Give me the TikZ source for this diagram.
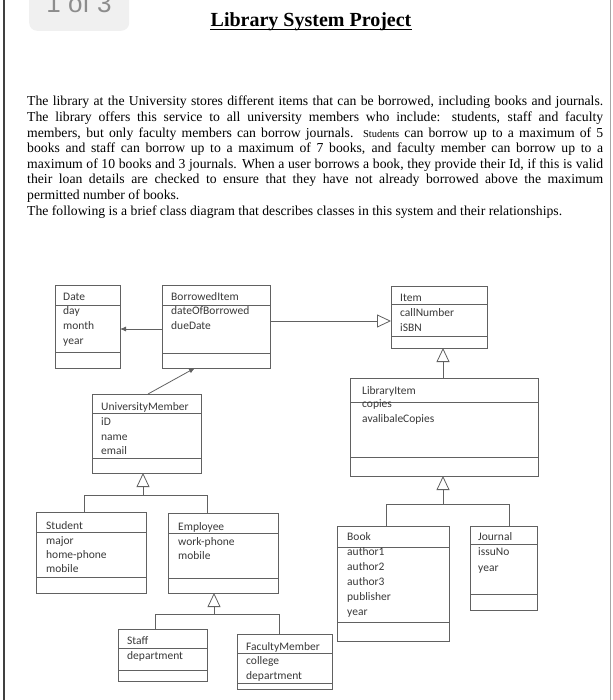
\documentclass[tikz,border=0pt]{standalone}
\usepackage{fontspec}
\setmainfont{Liberation Serif}
\newfontfamily\umlfont{Carlito}
\newfontfamily\pgfont{Liberation Sans}
\usetikzlibrary{arrows.meta}
\definecolor{linegray}{gray}{0.38}
\definecolor{txtgray}{gray}{0.22}
\newcommand\umlbox[5]{%
  \pgfmathsetmacro\bw{#4-#2}\pgfmathsetmacro\bh{#5-#3}%
  \node[box, minimum width=\bw pt, minimum height=\bh pt, anchor=north west] (#1) at (#2,#3) {};}
\newcommand\umldiv[2]{\draw[conn] (#1.west |- 0,#2) -- (#1.east |- 0,#2);}
\newcommand\umlattrs[5]{\foreach \t [count=\i] in {#5} {\node[lbl] (#1-a\i) at (#2,{#3+#4*(\i-1)}) {\t};}}
\tikzset{
  box/.style={draw=linegray, line width=0.8pt, inner sep=0pt, outer sep=0pt},
  conn/.style={draw=linegray, line width=0.8pt},
  lbl/.style={anchor=base west, inner sep=0pt, font=\umlfont\fontsize{11.5}{13}\selectfont, text=txtgray},
  gen/.style={conn, -{Triangle[open, length=14pt, width=13pt, line width=0.8pt]}},
  assoc/.style={conn, -{Latex[length=6pt, width=5pt]}},
}
\begin{document}
\begin{tikzpicture}[x=1pt, y=-1pt]
\useasboundingbox (0,0) rectangle (612,700);
\begin{scope}
\clip (0,0) rectangle (612,700);
% page frame
\draw[line width=1.6pt, black!75] (4,-5) -- (4,705);
\draw[line width=0.6pt, black!35] (610,-5) -- (610,705);
% page counter overlay
\node[fill=black!6, rounded corners=8pt, minimum width=100pt, minimum height=60pt, anchor=south west, inner sep=0pt] (pgbox) at (29,31) {};
\node[anchor=base, inner sep=0pt, text=black!45, font=\pgfont\fontsize{26}{26}\selectfont] (pgtxt) at (79,13) {1 of 3};
\end{scope}
% title
\node[anchor=base, inner sep=0pt, font=\bfseries\fontsize{20}{24}\selectfont] (title) at (311,27) {Library System Project};
\draw[line width=1pt] ([yshift=-2.2pt]title.base west) -- ([yshift=-2.2pt]title.base east);
% paragraph
\node[anchor=north west, text width=576pt, align=justify, inner sep=0pt,
      font=\fontsize{13.7}{15.6}\selectfont] (para) at (27,96)
{The library at the University stores different items that can be borrowed, including books and journals.\linebreak
The library offers this service to all university members who include: students, staff and faculty\linebreak
members, but only faculty members can borrow journals. {\fontsize{10.5}{12}\selectfont Students} can borrow up to a maximum of 5\linebreak
books and staff can borrow up to a maximum of 7 books, and faculty member can borrow up to a\linebreak
maximum of 10 books and 3 journals. When a user borrows a book, they provide their Id, if this is valid\linebreak
their loan details are checked to ensure that they have not already borrowed above the maximum\linebreak
permitted number of books.\\
The following is a brief class diagram that describes classes in this system and their relationships.};

% ---- classes ----
\umlbox{date}{55}{285}{120}{368}\umldiv{date}{305}\umldiv{date}{352}
\node[lbl] (date-h) at (63,300.5) {Date};
\umlattrs{date}{63}{314.5}{15}{day,month,year}

\umlbox{borrowed}{162}{285}{270}{368}\umldiv{borrowed}{305}\umldiv{borrowed}{353}
\node[lbl] (borrowed-h) at (171,300.5) {BorrowedItem};
\umlattrs{borrowed}{171}{314.5}{15}{dateOfBorrowed,dueDate}

\umlbox{item}{391}{286}{487}{348}\umldiv{item}{304}\umldiv{item}{336}
\node[lbl] (item-h) at (400,301.5) {Item};
\umlattrs{item}{400}{316.5}{15}{callNumber,iSBN}

\umlbox{libitem}{350}{378}{538}{476}\umldiv{libitem}{402}\umldiv{libitem}{457}
\node[lbl] (libitem-h) at (362,394.5) {LibraryItem};
\umlattrs{libitem}{362}{407.5}{15}{copies,avalibaleCopies}

\umlbox{member}{92}{394}{201}{473}\umldiv{member}{413}\umldiv{member}{458}
\node[lbl] (member-h) at (101,410.5) {UniversityMember};
\umlattrs{member}{101}{425.5}{14.5}{iD,name,email}

\umlbox{student}{36}{512}{146}{593}\umldiv{student}{532}\umldiv{student}{577}
\node[lbl] (student-h) at (46,529.5) {Student};
\umlattrs{student}{46}{544.5}{14}{major,home-phone,mobile}

\umlbox{employee}{168}{513}{278}{593}\umldiv{employee}{533}\umldiv{employee}{578}
\node[lbl] (employee-h) at (178,530.5) {Employee};
\umlattrs{employee}{178}{545.5}{14}{work-phone,mobile}

\umlbox{staff}{118}{629}{207}{681}\umldiv{staff}{648}\umldiv{staff}{670}
\node[lbl] (staff-h) at (127,644.5) {Staff};
\umlattrs{staff}{127}{659.5}{15}{department}

\umlbox{faculty}{237}{634}{332}{689}\umldiv{faculty}{653}\umldiv{faculty}{683}
\node[lbl] (faculty-h) at (246,650.5) {FacultyMember};
\umlattrs{faculty}{246}{664.5}{15}{college,department}

\umlbox{book}{337}{526}{449}{641}\umldiv{book}{547}\umldiv{book}{622}
\node[lbl] (book-h) at (347,540.5) {Book};
\umlattrs{book}{347}{555.5}{15}{author1,author2,author3,publisher,year}

\umlbox{journal}{470}{526}{537}{610}\umldiv{journal}{544}\umldiv{journal}{594}
\node[lbl] (journal-h) at (478,540.5) {Journal};
\umlattrs{journal}{478}{555.5}{15.5}{issuNo,year}

% ---- connectors ----
\draw[assoc] (borrowed.west |- 0,329) -- (date.east |- 0,329);
\draw[gen] (borrowed.east |- 0,321) -- (item.west |- 0,321);
\draw[assoc] (member.north -| 148,0) -- (borrowed.south -| 195,0);
\draw[gen] (libitem.north -| 443,0) -- (item.south -| 443,0);

\coordinate (jlib) at (443,504);
\draw[conn] (book.north -| 386,0) -- (386,504) -- (509,504) -- (journal.north -| 509,0);
\draw[gen] (jlib) -- (libitem.south -| jlib);

\coordinate (jmem) at (143,495);
\draw[conn] (student.north -| 84,0) -- (84,495) -- (207,495) -- (employee.north -| 207,0);
\draw[gen] (jmem) -- (member.south -| jmem);

\coordinate (jemp) at (214,614);
\draw[conn] (staff.north -| 155,0) -- (155,614) -- (279,614) -- (faculty.north -| 279,0);
\draw[gen] (jemp) -- (employee.south -| jemp);
\end{tikzpicture}
\end{document}
